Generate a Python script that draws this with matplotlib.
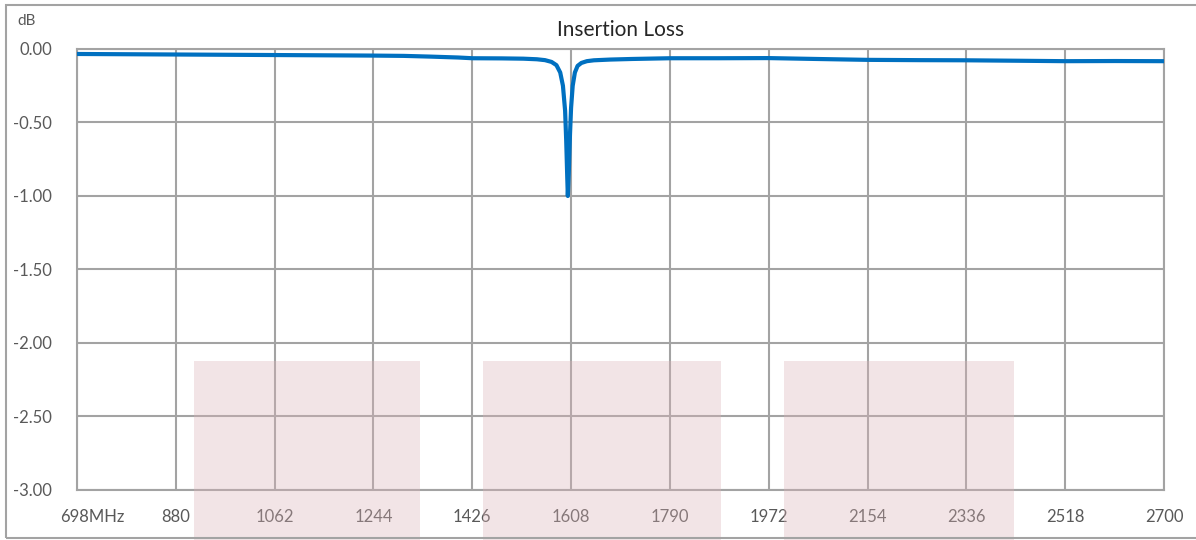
import matplotlib.pyplot as plt
from matplotlib.patches import Rectangle
import matplotlib.transforms as mtransforms

# frequency (MHz) and insertion loss (dB)
freq = [698, 800, 900, 1000, 1100, 1200, 1244, 1300, 1350, 1400, 1426, 1480, 1520,
        1545, 1560, 1572, 1581, 1588, 1593, 1597, 1599, 1601, 1602, 1604, 1606,
        1608, 1611, 1615, 1620, 1627, 1637, 1650, 1680, 1720, 1790, 1880, 1972,
        2060, 2154, 2250, 2336, 2430, 2518, 2610, 2700]
loss = [-0.034, -0.036, -0.038, -0.040, -0.042, -0.044, -0.045, -0.047, -0.052, -0.058,
        -0.063, -0.064, -0.066, -0.07, -0.076, -0.088, -0.11, -0.16, -0.25, -0.42,
        -0.62, -0.88, -1.0, -0.82, -0.58, -0.40, -0.25, -0.16, -0.115, -0.095,
        -0.083, -0.077, -0.072, -0.068, -0.063, -0.063, -0.062, -0.068, -0.074,
        -0.076, -0.077, -0.08, -0.083, -0.082, -0.083]

xticks = [698, 880, 1062, 1244, 1426, 1608, 1790, 1972, 2154, 2336, 2518, 2700]
xlabels = ['698MHz', '880', '1062', '1244', '1426', '1608', '1790', '1972',
           '2154', '2336', '2518', '2700']
yticks = [0, -0.5, -1.0, -1.5, -2.0, -2.5, -3.0]

# shaded bands (MHz)
bands = [(913, 1330), (1446, 1884), (2000, 2424)]
band_top = -2.12

plt.rcParams['font.family'] = ['Lato', 'DejaVu Sans']

fig = plt.figure(figsize=(11.96, 5.4), dpi=100)
ax = fig.add_axes([0.0644, 0.0926, 0.9088, 0.8167])

ax.plot(freq, loss, color='#0070c0', lw=3, solid_capstyle='round', zorder=3)

ax.set_xlim(698, 2700)
ax.set_ylim(-3, 0)
ax.set_xticks(xticks)
ax.set_xticklabels(xlabels)
ax.set_yticks(yticks)
ax.set_yticklabels(['%.2f' % v for v in yticks])
ax.grid(True, color='#a3a3a3', lw=1.5)
ax.set_axisbelow(True)
for s in ax.spines.values():
    s.set_color('#a3a3a3')
    s.set_linewidth(1.5)
ax.tick_params(length=0, labelsize=12, colors='#595959', pad=14)
ax.tick_params(axis='y', pad=18)

# shift first x label like the original
lab0 = ax.get_xticklabels()[0]
lab0.set_transform(lab0.get_transform() + mtransforms.ScaledTranslation(15 / 100, 0, fig.dpi_scale_trans))

for a, b in bands:
    ax.add_patch(Rectangle((a, band_top), b - a, -1.4, color='#dcb4b8', alpha=0.35,
                           lw=0, clip_on=False, zorder=4))

ax.set_title('Insertion Loss', fontsize=15, color='#262626', pad=9)
fig.text(17 / 1196, 1 - 21 / 540, 'dB', fontsize=11, color='#595959', va='center')

fig.patches.append(Rectangle((6 / 1196, 1 - 538 / 540), 1.0, (538 - 5) / 540,
                             transform=fig.transFigure, fill=False, ec='#a3a3a3', lw=1.5, zorder=10))

fig.savefig('out.png', dpi=100)
